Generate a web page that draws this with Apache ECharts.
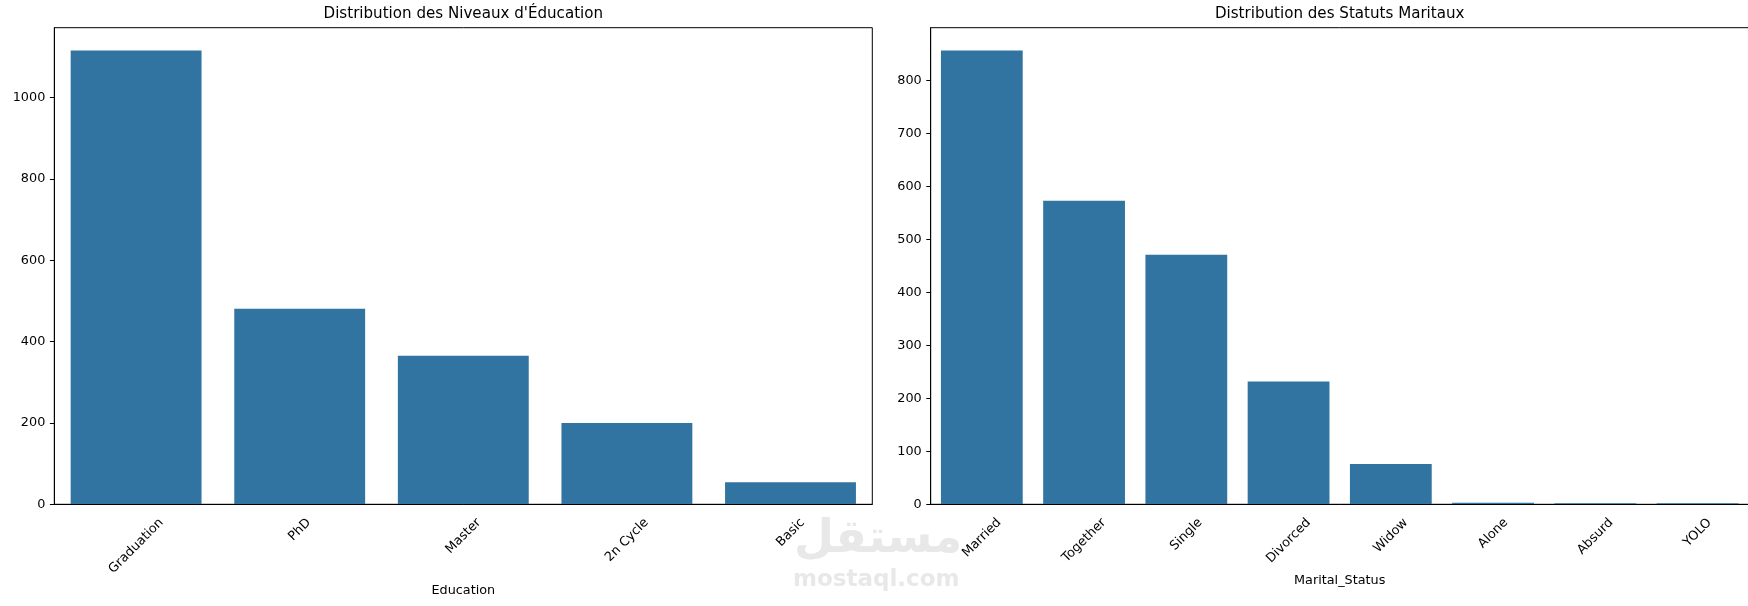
<!DOCTYPE html>
<html>
<head>
    <meta charset="utf-8">
    <title>Distribution Education / Statut marital</title>
    <script src="https://cdn.jsdelivr.net/npm/echarts@6/dist/echarts.min.js"></script>
    <style>
        html, body {margin: 0; padding: 0; background: #fff;}
        #chartmain {width: 1748px; height: 606px;}
    </style>
</head>
<body>
<div id="chartmain"></div>
<script>
    // données
    var eduCats = ['Graduation', 'PhD', 'Master', '2n Cycle', 'Basic'];
    var eduCounts = [1116, 481, 365, 200, 54];
    var eduTicks = [0, 200, 400, 600, 800, 1000];

    var maritalCats = ['Married', 'Together', 'Single', 'Divorced', 'Widow', 'Alone', 'Absurd', 'YOLO'];
    var maritalCounts = [857, 573, 471, 232, 76, 3, 2, 2];
    var maritalTicks = [0, 100, 200, 300, 400, 500, 600, 700, 800];

    var FONT = '"DejaVu Sans", sans-serif';
    var TICK_SIZE = 12.8;
    var BAR_COLOR = '#3274a1';

    // matplotlib centre les labels tournés sous le tick : on mesure chaque texte
    var ctx = document.createElement('canvas').getContext('2d');
    ctx.font = TICK_SIZE + 'px "DejaVu Sans"';
    function rotLabels(names) {
        return names.map(function (n) {
            var s = (ctx.measureText(n).width + 15) / 4;
            return {
                value: n,
                textStyle: {
                    align: 'center', verticalAlign: 'top',
                    padding: [Math.max(0, s - TICK_SIZE / 2), 2 * s, 0, 0]
                }
            };
        });
    }

    function xAxisOf(idx, names, title, gap) {
        return {
            type: 'category',
            gridIndex: idx,
            data: rotLabels(names),
            name: title,
            nameLocation: 'middle',
            nameGap: gap,
            nameMoveOverlap: false,
            nameTextStyle: {color: '#000', fontSize: TICK_SIZE, fontFamily: FONT},
            z: 5,
            axisLine: {lineStyle: {color: '#000', width: 1}},
            axisTick: {alignWithLabel: true, length: 4.4, lineStyle: {color: '#000', width: 1}},
            axisLabel: {
                rotate: 45, interval: 0, margin: 11,
                color: '#000', fontSize: TICK_SIZE, fontFamily: FONT
            },
            splitLine: {show: false}
        };
    }

    function yAxisOf(idx, max, ticks) {
        return {
            type: 'value',
            gridIndex: idx,
            min: 0,
            max: max,
            z: 5,
            axisLine: {show: true, lineStyle: {color: '#000', width: 1}},
            axisTick: {show: true, length: 4.4, customValues: ticks, lineStyle: {color: '#000', width: 1}},
            axisLabel: {
                customValues: ticks, margin: 9, color: '#000', fontSize: TICK_SIZE, fontFamily: FONT,
                formatter: function (v) { return String(v); }
            },
            splitLine: {show: false}
        };
    }

    var gridBase = {show: true, borderColor: '#000', borderWidth: 1, top: 27.7, height: 476.6, width: 818,
        containLabel: false, outerBoundsMode: 'none'};

    var option = {
        animation: false,
        backgroundColor: '#fff',
        title: [
            {text: "Distribution des Niveaux d'Éducation", left: 463.3, top: 7, padding: 0, textAlign: 'center',
                textStyle: {color: '#000', fontWeight: 'normal', fontSize: 15.1, fontFamily: FONT}},
            {text: 'Distribution des Statuts Maritaux', left: 1339.7, top: 7, padding: 0, textAlign: 'center',
                textStyle: {color: '#000', fontWeight: 'normal', fontSize: 15.1, fontFamily: FONT}}
        ],
        grid: [
            Object.assign({left: 54.3}, gridBase),
            Object.assign({left: 930.7}, gridBase)
        ],
        xAxis: [
            xAxisOf(0, eduCats, 'Education', 80),
            xAxisOf(1, maritalCats, 'Marital_Status', 70)
        ],
        yAxis: [
            yAxisOf(0, Math.max.apply(null, eduCounts) * 1.05, eduTicks),
            yAxisOf(1, Math.max.apply(null, maritalCounts) * 1.05, maritalTicks)
        ],
        series: [
            {type: 'bar', xAxisIndex: 0, yAxisIndex: 0, data: eduCounts, barCategoryGap: '20%',
                itemStyle: {color: BAR_COLOR}},
            {type: 'bar', xAxisIndex: 1, yAxisIndex: 1, data: maritalCounts, barCategoryGap: '20%',
                itemStyle: {color: BAR_COLOR}}
        ],
        // filigrane
        graphic: [
            {type: 'text', left: 794, top: 517, z: -1, silent: true,
                style: {text: 'مستقل', fill: '#e8e8e8', font: 'bold 46px "DejaVu Sans"'}},
            {type: 'text', left: 793, top: 569, z: -1, silent: true,
                style: {text: 'mostaql.com', fill: '#e8e8e8', font: 'bold 23px "DejaVu Sans"'}}
        ]
    };

    var myChart = echarts.init(document.getElementById('chartmain'));
    myChart.setOption(option);
</script>
</body>
</html>
